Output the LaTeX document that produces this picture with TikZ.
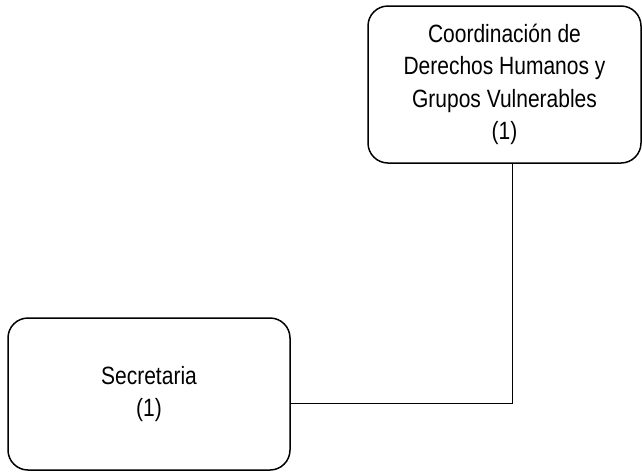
\documentclass[tikz,border=0pt]{standalone}
\usepackage{fontspec}
\setmainfont{Liberation Sans}[FakeStretch=0.84]
\usetikzlibrary{positioning}

\tikzset{
  unitbox/.style={draw, line width=1.5pt, rounded corners=20pt, align=center,
    font=\fontsize{25}{32.5}\selectfont, inner sep=0pt},
  link/.style={draw, line width=1pt}
}

\begin{document}
\begin{tikzpicture}[x=1pt, y=-1pt]
  % Canvas
  \useasboundingbox (0,0) rectangle (642,472);

  % Units
  \node[unitbox, minimum width=273pt, minimum height=157pt] (coord) at (504.5,84.5)
    {Coordinación de\\Derechos Humanos y\\Grupos Vulnerables\\(1)};
  \node[unitbox, minimum width=282pt, minimum height=152pt] (sec) at (149,394)
    {Secretaria\\(1)};

  % Connector
  \coordinate (bend) at (512,403);
  \draw[link] (coord.south -| bend) -- (bend) -- (sec.east |- bend);
\end{tikzpicture}
\end{document}
